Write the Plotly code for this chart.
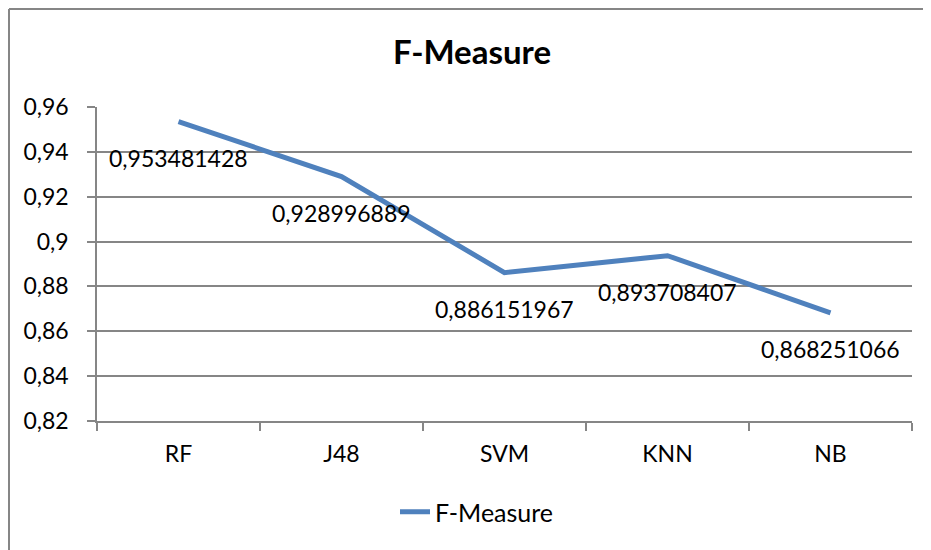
import plotly.graph_objects as go

categories = ["RF", "J48", "SVM", "KNN", "NB"]
f_measure = [0.953481428, 0.928996889, 0.886151967, 0.893708407, 0.868251066]
series_name = "F-Measure"
title_text = "F-Measure"

FONT = "Lato, Open Sans, sans-serif"
LINE_COLOR = "#4F81BD"
GRID = "#868686"

OFF = 8  # page body margin
W, H = 931 - OFF, 550 - OFF
L, R, T, B = 97 - OFF, 912 - OFF, 107 - OFF, 421 - OFF

fig = go.Figure()
fig.add_trace(go.Scatter(
    x=categories, y=f_measure, mode="lines", name=series_name,
    line=dict(color=LINE_COLOR, width=5),
))

for c, v in zip(categories, f_measure):
    fig.add_annotation(
        x=c, y=v, text=f"{v:.9f}".replace(".", ","), showarrow=False,
        yshift=-36, font=dict(family=FONT, size=23, color="#000000"),
    )

pw = R - L
ph = B - T
# chart-area border: top and left edges (right/bottom fall outside the picture)
fig.add_shape(type="line", xref="paper", yref="paper",
              x0=(1 - L) / pw, x1=(W + 20 - L) / pw, y0=(B - 1) / ph, y1=(B - 1) / ph,
              line=dict(color=GRID, width=2), layer="below")
fig.add_shape(type="line", xref="paper", yref="paper",
              x0=(1 - L) / pw, x1=(1 - L) / pw, y0=(B - 1) / ph, y1=(B - (H + 20)) / ph,
              line=dict(color=GRID, width=2), layer="below")

fig.update_layout(
    width=W, height=H,
    margin=dict(l=L, r=W - R, t=T, b=H - B, pad=0),
    paper_bgcolor="white", plot_bgcolor="white",
    separators=", ",
    font=dict(family=FONT, size=23, color="#000000"),
    title=dict(text=f"<b>{title_text}</b>", x=(472 - OFF) / W, xref="container", xanchor="center",
               y=1 - (52 - OFF) / H, yref="container", yanchor="middle",
               font=dict(family=FONT, size=33, color="#000000")),
    showlegend=True,
    legend=dict(orientation="h", x=(477 - OFF - L) / pw, xanchor="center",
                y=(B - (512 - OFF)) / ph, yanchor="middle",
                font=dict(family=FONT, size=25, color="#000000"),
                bgcolor="rgba(0,0,0,0)"),
    xaxis=dict(
        type="category", tickson="boundaries", ticks="outside", ticklen=8,
        tickcolor=GRID, tickwidth=1.5, showline=True, linecolor=GRID, linewidth=1.5,
        showgrid=False, zeroline=False, range=[-0.5, 4.5], ticklabelstandoff=12,
        tickfont=dict(family=FONT, size=23, color="#000000"),
    ),
    yaxis=dict(
        range=[0.82, 0.96], dtick=0.02, tick0=0.82, ticks="outside", ticklen=8,
        tickcolor=GRID, tickwidth=1.5, showline=True, linecolor=GRID, linewidth=1.5,
        showgrid=True, gridcolor=GRID, gridwidth=1.5, zeroline=False, ticklabelstandoff=14,
        tickfont=dict(family=FONT, size=23, color="#000000"),
    ),
)

fig.write_html("out.html")
